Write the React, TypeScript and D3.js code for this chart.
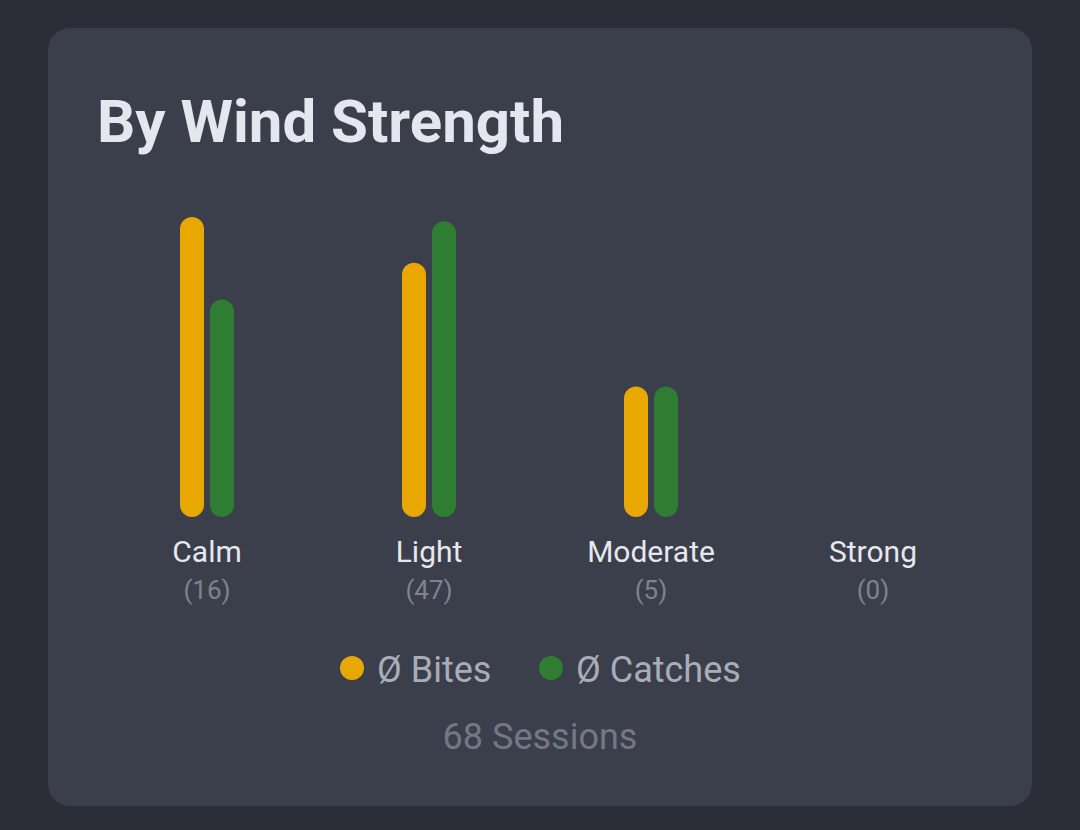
import { useEffect, useRef } from "react";
import * as d3 from "d3";

const categories = ["Calm", "Light", "Moderate", "Strong"];
const sessionCounts = [16, 47, 5, 0];
const avgBites = [1.38, 1.17, 0.6, 0];
const avgCatches = [1.0, 1.36, 0.6, 0];
const seriesKeys = ["bites", "catches"];
const seriesNames = ["Ø Bites", "Ø Catches"];
const seriesColors = ["#e8a800", "#2e7d32"];
const totalSessions = 68;

const W = 1080,
  H = 830;

function App() {
  const svgRef = useRef(null);

  useEffect(() => {
    document.body.style.margin = "0";
    const svg = d3.select(svgRef.current);
    svg.selectAll("*").remove();

    svg.append("rect").attr("width", W).attr("height", H).attr("fill", "#2b2e37");
    svg
      .append("rect")
      .attr("x", 48)
      .attr("y", 28)
      .attr("width", 984)
      .attr("height", 778)
      .attr("rx", 22)
      .attr("fill", "#3b3f4b");

    svg
      .append("text")
      .attr("x", 97)
      .attr("y", 142)
      .attr("font-family", "Roboto")
      .attr("font-weight", 700)
      .attr("font-size", 60)
      .attr("fill", "#e4e7ee")
      .text("By Wind Strength");

    const x = d3.scaleBand().domain(categories).range([96, 984]).padding(0);
    const xs = d3
      .scaleBand()
      .domain(seriesKeys)
      .range([-27, 27])
      .paddingInner(0.2)
      .paddingOuter(0);
    const maxV = d3.max([...avgBites, ...avgCatches]) as number;
    const y = d3.scaleLinear().domain([0, maxV]).range([517, 217]);

    const rows = categories.map((c, i) => ({
      cat: c,
      n: sessionCounts[i],
      vals: [avgBites[i], avgCatches[i]],
    }));

    const g = svg
      .selectAll("g.grp")
      .data(rows)
      .enter()
      .append("g")
      .attr("class", "grp")
      .attr("transform", (d) => "translate(" + ((x(d.cat) as number) + x.bandwidth() / 2) + ",0)");

    g.selectAll("rect")
      .data((d) => d.vals.map((v, j) => ({ v, key: seriesKeys[j], j })).filter((e) => e.v > 0))
      .enter()
      .append("rect")
      .attr("x", (e) => xs(e.key) as number)
      .attr("y", (e) => y(e.v))
      .attr("width", xs.bandwidth())
      .attr("height", (e) => y(0) - y(e.v))
      .attr("rx", xs.bandwidth() / 2)
      .attr("fill", (e) => seriesColors[e.j]);

    g.append("text")
      .attr("y", 562)
      .attr("text-anchor", "middle")
      .attr("font-family", "Roboto")
      .attr("font-size", 30)
      .attr("fill", "#e6e8ee")
      .text((d) => d.cat);

    g.append("text")
      .attr("y", 599)
      .attr("text-anchor", "middle")
      .attr("font-family", "Roboto")
      .attr("font-size", 26)
      .attr("fill", "#7f838e")
      .text((d) => "(" + d.n + ")");

    // legend
    const legendX = [352, 551];
    seriesNames.forEach((name, i) => {
      svg
        .append("circle")
        .attr("cx", legendX[i])
        .attr("cy", 668)
        .attr("r", 12)
        .attr("fill", seriesColors[i]);
      svg
        .append("text")
        .attr("x", legendX[i] + 25)
        .attr("y", 682)
        .attr("font-family", "Roboto")
        .attr("font-size", 36)
        .attr("fill", "#a9adb8")
        .text(name);
    });

    svg
      .append("text")
      .attr("x", 540)
      .attr("y", 749)
      .attr("text-anchor", "middle")
      .attr("font-family", "Roboto")
      .attr("font-size", 36)
      .attr("fill", "#747884")
      .text(totalSessions + " Sessions");
  }, []);

  return <svg ref={svgRef} width={W} height={H} style={{ display: "block" }}></svg>;
}

export default App;
